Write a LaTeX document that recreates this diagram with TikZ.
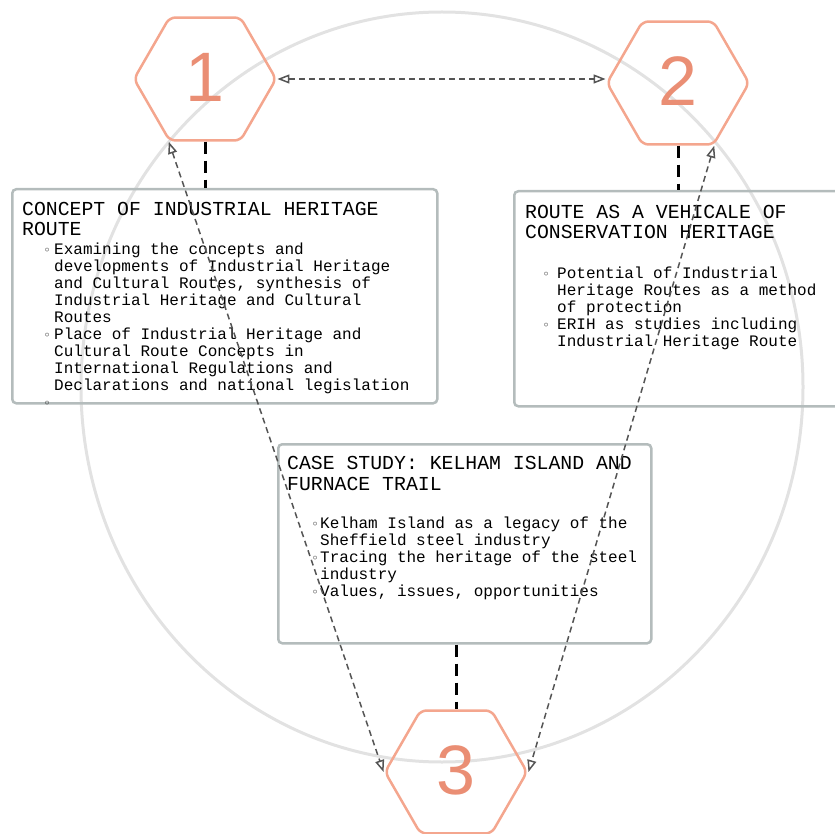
\documentclass[tikz,border=0pt]{standalone}
\usepackage{fontspec}
\setmonofont{Liberation Mono}
\newfontfamily\hexfont{Liberation Sans}
\newfontfamily\symfont{DejaVu Sans}
\usetikzlibrary{shapes.geometric,arrows.meta,calc}
\definecolor{hexline}{RGB}{244,166,142}
\definecolor{hexnum}{RGB}{234,142,116}
\definecolor{boxline}{RGB}{180,188,188}
\definecolor{ringcol}{RGB}{226,226,226}
\definecolor{arrcol}{RGB}{85,85,85}
\newcommand\bl[1]{\makebox[#1][c]{\symfont\fontsize{12}{12}\selectfont ◦}}
\newcommand\hexnum[1]{\raisebox{4pt}{#1}}
\begin{document}
\begin{tikzpicture}[x=1pt,y=-1pt,
  hexnode/.style={regular polygon, regular polygon sides=6, minimum size=142pt,
    inner sep=0pt, draw=hexline, line width=2.5pt, rounded corners=6pt,
    text=hexnum, font=\hexfont\fontsize{70}{70}\selectfont},
  boxnode/.style={draw=boxline, line width=2.5pt, rounded corners=4pt, inner sep=0pt,
    anchor=north west},
  ttl/.style={anchor=base west, align=left, inner sep=0pt,
    font=\ttfamily\fontsize{19.8}{20.5}\selectfont},
  bod/.style={anchor=base west, align=left, inner sep=0pt,
    font=\ttfamily\fontsize{16}{17}\selectfont},
  arr/.style={draw=arrcol, line width=1.5pt, dash pattern=on 6pt off 4pt,
    {Triangle[open,length=12pt,width=9pt]}-{Triangle[open,length=12pt,width=9pt]}},
  blk/.style={draw=black, line width=3pt, dash pattern=on 12pt off 7pt}]
\useasboundingbox (0,0) rectangle (835,834);
% ring
\draw[ringcol, line width=3pt] (442,387) ellipse [x radius=361pt, y radius=375pt];
% boxes
\node[boxnode, minimum width=425pt, minimum height=214pt] (b1) at (11,188) {};
\node[boxnode, minimum width=340pt, minimum height=215pt] (b2) at (513,190) {};
\node[boxnode, minimum width=373pt, minimum height=199pt] (b3) at (277,443) {};
% texts (anchor = baseline of the last line)
\node[ttl] (t1) at (22,236) {CONCEPT OF INDUSTRIAL HERITAGE\\ROUTE};
\node[bod] (l1) at (40,407) {\bl{14pt}Examining the concepts and\\
\hspace*{14pt}developments of Industrial Heritage\\
\hspace*{14pt}and Cultural Routes, synthesis of\\
\hspace*{14pt}Industrial Heritage and Cultural\\
\hspace*{14pt}Routes\\
\bl{14pt}Place of Industrial Heritage and\\
\hspace*{14pt}Cultural Route Concepts in\\
\hspace*{14pt}International Regulations and\\
\hspace*{14pt}Declarations and national legislation\\
\bl{14pt}};
\node[ttl] (t2) at (525,239) {ROUTE AS A VEHICALE OF\\CONSERVATION HERITAGE};
\node[bod] (l2) at (535,346) {\bl{22pt}Potential of Industrial\\
\hspace*{22pt}Heritage Routes as a method\\
\hspace*{22pt}of protection\\
\bl{22pt}ERIH as studies including\\
\hspace*{22pt}Industrial Heritage Route};
\node[ttl] (t3) at (287,490) {CASE STUDY: KELHAM ISLAND AND\\FURNACE TRAIL};
\node[bod] (l3) at (310,596) {\bl{10pt}Kelham Island as a legacy of the\\
\hspace*{10pt}Sheffield steel industry\\
\bl{10pt}Tracing the heritage of the steel\\
\hspace*{10pt}industry\\
\bl{10pt}Values, issues, opportunities};
% hexagons
\node[hexnode] (h1) at (205,79) {\hexnum{1}};
\node[hexnode] (h2) at (678,83) {\hexnum{2}};
\node[hexnode] (h3) at (456,772) {\hexnum{3}};
% black dashed links
\draw[blk] (h1.south) -- (h1.south |- b1.north);
\draw[blk] (h2.south) -- (h2.south |- b2.north);
\draw[blk] (h3.north |- b3.south) -- (h3.north);
% gray dashed arrows
\draw[arr] (h1.east) -- (h1.east -| h2.west);
\draw[arr] (h1.240) -- (h3.180);
\draw[arr] (h2.300) -- (h3.0);
\end{tikzpicture}
\end{document}
